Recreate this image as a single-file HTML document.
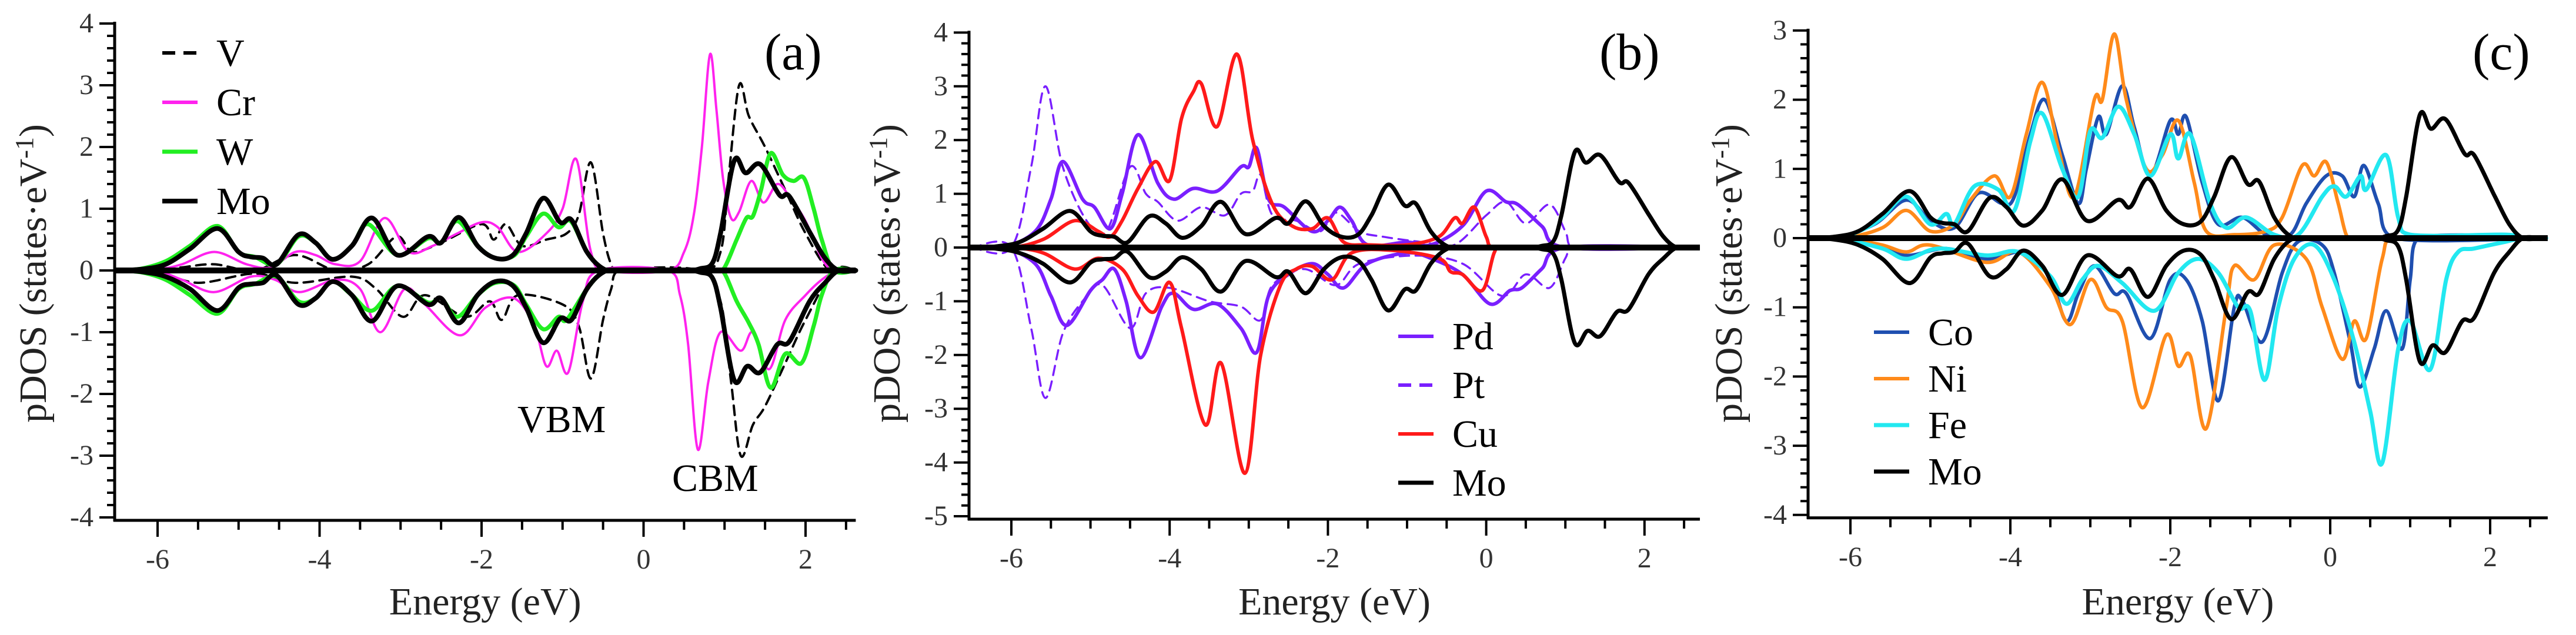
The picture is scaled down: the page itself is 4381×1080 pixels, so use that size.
<!DOCTYPE html>
<html><head><meta charset="utf-8"><style>
html,body{margin:0;padding:0;background:#fff;}
svg{display:block;}
svg text{font-family:"Liberation Serif","Times New Roman",serif;}
</style></head><body>
<svg id="fig" width="4381" height="1080" viewBox="0 0 4381 1080" xmlns="http://www.w3.org/2000/svg" font-family="Liberation Serif, serif"></svg>
<script>
// ---------- data (energy eV, pDOS) ----------
const moUp=[[-6.5,0],[-6.2,0.02],[-5.9,0.1],[-5.6,0.35],[-5.26,0.68],[-5.0,0.3],[-4.85,0.22],[-4.7,0.2],[-4.53,0.1],[-4.26,0.58],[-4.05,0.45],[-3.84,0.18],[-3.6,0.4],[-3.35,0.85],[-3.04,0.25],[-2.66,0.55],[-2.5,0.45],[-2.28,0.86],[-2.05,0.4],[-1.83,0.2],[-1.62,0.24],[-1.45,0.6],[-1.24,1.17],[-1.03,0.78],[-0.89,0.82],[-0.7,0.3],[-0.5,0.03],[-0.3,0],[0.5,0],[0.7,0.03],[0.85,0.12],[0.95,0.6],[1.12,1.78],[1.26,1.58],[1.44,1.72],[1.68,1.22],[1.8,1.2],[2.06,0.6],[2.24,0.2],[2.41,0],[2.62,0]];
const moDown=[[-6.5,0],[-6.2,-0.02],[-5.9,-0.1],[-5.6,-0.3],[-5.26,-0.65],[-5.0,-0.28],[-4.85,-0.22],[-4.7,-0.2],[-4.53,-0.08],[-4.26,-0.55],[-4.05,-0.45],[-3.84,-0.18],[-3.6,-0.4],[-3.35,-0.82],[-3.04,-0.25],[-2.66,-0.55],[-2.5,-0.45],[-2.28,-0.85],[-2.05,-0.4],[-1.83,-0.18],[-1.62,-0.24],[-1.45,-0.6],[-1.24,-1.17],[-1.03,-0.78],[-0.89,-0.8],[-0.7,-0.3],[-0.5,-0.03],[-0.3,0],[0.5,0],[0.7,-0.03],[0.85,-0.12],[0.95,-0.6],[1.12,-1.78],[1.28,-1.55],[1.44,-1.65],[1.65,-1.2],[1.8,-1.15],[2.05,-0.5],[2.24,-0.2],[2.41,0],[2.62,0]];
// panel a
const wUp=[[-6.5,0],[-6.2,0.03],[-5.9,0.15],[-5.6,0.4],[-5.26,0.72],[-5.0,0.3],[-4.8,0.22],[-4.53,0.1],[-4.26,0.55],[-4.05,0.45],[-3.84,0.18],[-3.6,0.4],[-3.4,0.75],[-3.04,0.25],[-2.66,0.52],[-2.5,0.45],[-2.3,0.8],[-2.05,0.4],[-1.83,0.2],[-1.6,0.24],[-1.45,0.55],[-1.24,0.92],[-1.05,0.7],[-0.9,0.8],[-0.7,0.3],[-0.5,0.03],[-0.3,0],[0.9,0],[1.0,0.05],[1.15,0.5],[1.27,0.85],[1.35,0.88],[1.45,1.3],[1.57,1.9],[1.72,1.55],[1.85,1.45],[1.98,1.5],[2.1,1.0],[2.2,0.5],[2.35,0],[2.62,0]];
const wDown=[[-6.5,0],[-6.2,-0.03],[-5.9,-0.15],[-5.6,-0.4],[-5.26,-0.7],[-5.0,-0.3],[-4.8,-0.22],[-4.53,-0.1],[-4.26,-0.5],[-4.05,-0.45],[-3.84,-0.18],[-3.6,-0.4],[-3.35,-0.65],[-3.04,-0.25],[-2.66,-0.52],[-2.5,-0.45],[-2.3,-0.75],[-2.05,-0.4],[-1.83,-0.2],[-1.6,-0.24],[-1.45,-0.55],[-1.24,-0.95],[-1.05,-0.75],[-0.95,-0.8],[-0.7,-0.3],[-0.5,-0.03],[-0.3,0],[0.9,0],[1.0,-0.05],[1.15,-0.5],[1.3,-0.85],[1.42,-1.2],[1.57,-1.9],[1.75,-1.35],[1.95,-1.5],[2.1,-0.9],[2.2,-0.4],[2.35,0],[2.62,0]];
const crUp=[[-6.5,0],[-6.0,0.02],[-5.7,0.1],[-5.3,0.3],[-4.9,0.1],[-4.6,0.05],[-4.3,0.3],[-4.05,0.25],[-3.8,0.1],[-3.5,0.15],[-3.2,0.85],[-2.9,0.3],[-2.6,0.4],[-2.3,0.6],[-2.0,0.78],[-1.8,0.7],[-1.55,0.3],[-1.2,0.6],[-1.0,1.0],[-0.83,1.8],[-0.65,0.3],[-0.45,0],[0.3,0],[0.5,0.3],[0.62,0.9],[0.72,2.0],[0.82,3.5],[0.9,2.6],[0.98,1.5],[1.08,0.85],[1.18,0.95],[1.33,1.45],[1.48,1.1],[1.65,1.4],[1.8,1.2],[2.0,0.8],[2.2,0.2],[2.35,0],[2.62,0]];
const crDown=[[-6.5,0],[-6.0,-0.02],[-5.7,-0.15],[-5.3,-0.35],[-4.85,-0.1],[-4.55,-0.15],[-4.25,-0.35],[-3.8,-0.15],[-3.5,-0.3],[-3.25,-1.0],[-2.95,-0.3],[-2.7,-0.55],[-2.27,-1.05],[-1.95,-0.6],[-1.6,-0.45],[-1.35,-0.9],[-1.2,-1.55],[-1.07,-1.3],[-0.93,-1.65],[-0.75,-0.5],[-0.55,0],[0.3,0],[0.45,-0.4],[0.55,-1.2],[0.67,-2.9],[0.8,-1.8],[0.95,-1.0],[1.2,-1.3],[1.35,-1.0],[1.55,-1.6],[1.75,-0.8],[2.0,-0.4],[2.2,-0.15],[2.4,0],[2.62,0]];
const vUp=[[-6.5,0],[-6.0,0.01],[-5.7,0.05],[-5.3,0.1],[-4.8,0],[-4.3,0.25],[-3.8,0],[-3.4,0.1],[-3.05,0.55],[-2.85,0.3],[-2.5,0.45],[-2.0,0.75],[-1.85,0.5],[-1.7,0.75],[-1.5,0.4],[-1.2,0.5],[-0.95,0.6],[-0.8,0.9],[-0.65,1.75],[-0.5,0.6],[-0.4,0.1],[-0.3,0],[0.7,0],[0.95,0.3],[1.05,1.5],[1.18,3.0],[1.3,2.5],[1.5,2.0],[1.75,1.3],[2.0,0.6],[2.3,0],[2.62,0]];
const vDown=[[-6.5,0],[-6.0,-0.02],[-5.5,-0.2],[-4.8,-0.05],[-4.3,-0.2],[-3.6,-0.1],[-3.3,-0.3],[-2.97,-0.75],[-2.7,-0.4],[-2.2,-0.75],[-1.9,-0.5],[-1.75,-0.8],[-1.55,-0.4],[-1.0,-0.55],[-0.8,-0.9],[-0.65,-1.75],[-0.5,-0.8],[-0.4,-0.3],[-0.3,0],[0.7,0],[0.95,-0.5],[1.08,-1.8],[1.2,-3.0],[1.35,-2.5],[1.5,-2.2],[1.75,-1.5],[2.0,-0.8],[2.35,0],[2.62,0]];
// panel b
const pdUp=[[-6.5,0],[-6.1,0],[-5.7,0.3],[-5.5,0.9],[-5.35,1.6],[-5.1,0.9],[-4.95,0.75],[-4.75,0.35],[-4.6,1.0],[-4.4,2.1],[-4.15,1.2],[-3.95,0.9],[-3.7,1.1],[-3.4,1.05],[-3.1,1.5],[-3.0,1.5],[-2.9,1.85],[-2.75,0.9],[-2.55,0.75],[-2.2,0.3],[-2.0,0.5],[-1.85,0.75],[-1.7,0.5],[-1.5,0.05],[-1.0,0.1],[-0.7,0.05],[-0.3,0.4],[0.0,1.05],[0.25,0.85],[0.4,0.8],[0.7,0.4],[1.0,0],[2.62,0]];
const pdDown=[[-6.5,0],[-6.1,0],[-5.7,-0.3],[-5.5,-0.9],[-5.3,-1.45],[-5.0,-0.8],[-4.85,-0.6],[-4.7,-0.4],[-4.55,-1.0],[-4.37,-2.05],[-4.1,-1.1],[-3.95,-0.85],[-3.7,-1.15],[-3.4,-1.05],[-3.1,-1.5],[-2.9,-1.95],[-2.75,-0.9],[-2.5,-0.5],[-2.2,-0.3],[-2.0,-0.5],[-1.8,-0.75],[-1.5,-0.3],[-1.0,-0.1],[-0.7,-0.2],[-0.3,-0.5],[0.05,-1.05],[0.3,-0.8],[0.45,-0.75],[0.7,-0.4],[1.0,0],[2.62,0]];
const ptUp=[[-6.5,0],[-6.0,0],[-5.75,1.5],[-5.57,3.0],[-5.35,1.5],[-5.05,0.5],[-4.8,0.3],[-4.5,1.5],[-4.3,1.0],[-4.15,0.85],[-3.9,0.5],[-3.6,0.75],[-3.3,0.6],[-3.1,1.0],[-2.95,1.05],[-2.85,1.35],[-2.7,0.6],[-2.4,0.5],[-2.1,0.3],[-1.9,0.65],[-1.6,0.3],[-1.3,0.2],[-0.8,0.1],[-0.4,0.05],[0.0,0.6],[0.25,0.85],[0.5,0.45],[0.8,0.8],[1.0,0.3],[1.1,0],[2.62,0]];
const ptDown=[[-6.5,0],[-6.0,0],[-5.75,-1.5],[-5.57,-2.8],[-5.35,-1.6],[-5.1,-1.0],[-4.85,-0.7],[-4.5,-1.5],[-4.3,-0.85],[-4.0,-0.75],[-3.5,-1.0],[-3.1,-1.1],[-2.85,-1.35],[-2.7,-0.7],[-2.3,-0.4],[-1.9,-0.7],[-1.6,-0.3],[-0.9,-0.15],[-0.3,-0.3],[0.2,-0.9],[0.5,-0.5],[0.8,-0.75],[1.0,-0.2],[1.1,0],[2.62,0]];
const cuUp=[[-6.5,0],[-6.0,0],[-5.6,0.15],[-5.2,0.5],[-4.9,0.3],[-4.75,0.2],[-4.6,0.5],[-4.4,1.1],[-4.18,1.6],[-4.0,1.25],[-3.85,2.4],[-3.7,2.9],[-3.6,3.05],[-3.4,2.25],[-3.15,3.6],[-2.95,2.0],[-2.7,0.8],[-2.45,0.4],[-2.2,0.35],[-2.0,0.55],[-1.8,0.1],[-1.5,0.05],[-1.0,0.05],[-0.6,0.2],[-0.4,0.55],[-0.3,0.45],[-0.15,0.75],[0.0,0.2],[0.1,0],[2.62,0]];
const cuDown=[[-6.5,0],[-6.0,0],[-5.6,-0.1],[-5.2,-0.4],[-4.9,-0.2],[-4.6,-0.4],[-4.4,-0.9],[-4.2,-1.2],[-4.0,-0.65],[-3.85,-1.5],[-3.55,-3.3],[-3.35,-2.15],[-3.05,-4.2],[-2.85,-2.0],[-2.6,-0.7],[-2.4,-0.4],[-2.2,-0.35],[-1.95,-0.6],[-1.7,-0.1],[-1.2,-0.05],[-0.6,-0.2],[-0.45,-0.45],[-0.3,-0.5],[-0.05,-0.8],[0.1,-0.1],[0.2,0],[2.62,0]];
// panel c
const coUp=[[-6.5,0],[-6.2,0],[-5.7,0.2],[-5.3,0.55],[-5.0,0.25],[-4.7,0.15],[-4.4,0.65],[-4.1,0.5],[-3.95,0.6],[-3.75,1.5],[-3.57,2.0],[-3.35,1.2],[-3.15,0.5],[-3.05,1.0],[-2.9,1.75],[-2.8,1.5],[-2.6,2.2],[-2.45,1.6],[-2.25,0.9],[-2.0,1.7],[-1.9,1.5],[-1.8,1.75],[-1.6,0.8],[-1.4,0.2],[-1.1,0.3],[-0.8,0.05],[-0.5,0.05],[-0.3,0.5],[-0.05,0.9],[0.15,0.9],[0.3,0.6],[0.42,1.05],[0.6,0.5],[0.8,0],[2.7,0]];
const coDown=[[-6.5,0],[-6.2,0],[-5.7,-0.1],[-5.3,-0.25],[-4.8,-0.15],[-4.3,-0.3],[-3.8,-0.2],[-3.5,-0.6],[-3.3,-1.2],[-3.15,-0.8],[-2.95,-0.4],[-2.7,-0.8],[-2.55,-0.8],[-2.25,-1.45],[-2.0,-0.6],[-1.8,-0.6],[-1.6,-1.2],[-1.4,-2.35],[-1.2,-1.0],[-1.1,-0.9],[-0.85,-1.5],[-0.6,-0.5],[-0.4,-0.05],[-0.1,-0.1],[0.05,-0.5],[0.25,-1.5],[0.37,-2.15],[0.55,-1.6],[0.7,-1.05],[0.9,-1.6],[1.0,-0.6],[1.1,0],[2.7,0]];
const niUp=[[-6.5,0],[-6.0,0.02],[-5.6,0.15],[-5.3,0.4],[-5.0,0.1],[-4.7,0.2],[-4.5,0.55],[-4.2,0.9],[-4.0,0.6],[-3.8,1.5],[-3.6,2.25],[-3.4,1.3],[-3.2,0.6],[-2.95,2.0],[-2.85,2.0],[-2.7,2.95],[-2.55,2.0],[-2.3,1.0],[-2.1,1.2],[-1.9,1.7],[-1.7,0.8],[-1.55,0.1],[-1.2,0.05],[-0.8,0.1],[-0.6,0.3],[-0.35,1.05],[-0.2,0.9],[-0.05,1.1],[0.1,0.5],[0.2,0.05],[0.3,0],[2.7,0]];
const niDown=[[-6.5,0],[-6.0,-0.02],[-5.6,-0.1],[-5.3,-0.2],[-5.0,-0.1],[-4.3,-0.35],[-3.9,-0.2],[-3.5,-0.7],[-3.25,-1.25],[-3.0,-0.6],[-2.8,-1.0],[-2.6,-1.2],[-2.35,-2.45],[-2.05,-1.4],[-1.9,-1.85],[-1.75,-1.7],[-1.55,-2.75],[-1.3,-1.0],[-1.2,-0.4],[-0.95,-0.6],[-0.7,-0.1],[-0.3,-0.3],[-0.1,-1.0],[0.15,-1.75],[0.3,-1.2],[0.45,-1.45],[0.65,-0.3],[0.8,0],[2.7,0]];
const feUp=[[-6.5,0],[-6.1,0.02],[-5.8,0.15],[-5.6,0.3],[-5.3,0.6],[-5.0,0.2],[-4.8,0.35],[-4.7,0.2],[-4.45,0.75],[-4.15,0.7],[-3.95,0.4],[-3.75,1.4],[-3.6,1.8],[-3.35,1.0],[-3.15,0.6],[-3.0,1.55],[-2.85,1.45],[-2.65,1.9],[-2.45,1.5],[-2.25,0.9],[-2.0,1.5],[-1.9,1.15],[-1.75,1.5],[-1.5,0.5],[-1.3,0.15],[-1.05,0.3],[-0.7,0.05],[-0.4,0.05],[-0.1,0.6],[0.05,0.75],[0.2,0.6],[0.38,0.9],[0.45,0.7],[0.7,1.2],[0.85,0.3],[1.0,0.05],[2.2,0.05],[2.4,0],[2.7,0]];
const feDown=[[-6.5,0],[-6.1,-0.02],[-5.6,-0.15],[-5.3,-0.3],[-4.9,-0.15],[-4.3,-0.25],[-3.9,-0.2],[-3.5,-0.55],[-3.3,-0.95],[-3.1,-0.6],[-2.9,-0.4],[-2.6,-0.65],[-2.2,-1.05],[-1.9,-0.5],[-1.65,-0.3],[-1.4,-0.5],[-1.15,-1.0],[-1.0,-1.05],[-0.82,-2.05],[-0.65,-1.0],[-0.45,-0.3],[-0.2,-0.1],[0.05,-0.6],[0.3,-1.5],[0.5,-2.5],[0.65,-3.25],[0.85,-1.6],[1.0,-1.2],[1.25,-1.9],[1.45,-0.6],[1.6,-0.2],[1.8,-0.15],[2.2,-0.05],[2.4,0],[2.7,0]];
const xTicks=[-6,-4,-2,0,2];
const yTicksA=[-4,-3,-2,-1,0,1,2,3,4];
const yTicksB=[-5,-4,-3,-2,-1,0,1,2,3,4];
const yTicksC=[-4,-3,-2,-1,0,1,2,3];

// ---------- rendering ----------
const NS='http://www.w3.org/2000/svg';
const FONT='Liberation Serif, Times New Roman, serif';
const svg=document.getElementById('fig');
function mk(tag,attrs,parent){const e=document.createElementNS(NS,tag);for(const k in attrs)e.setAttribute(k,attrs[k]);if(tag==='text')e.setAttribute('font-family',FONT);(parent||svg).appendChild(e);return e;}
function smooth(pts,xs,ys){
  const p=pts.map(d=>[xs(d[0]),ys(d[1])]);
  let s='M'+p[0][0].toFixed(1)+','+p[0][1].toFixed(1);
  for(let i=0;i<p.length-1;i++){
    const p0=p[Math.max(0,i-1)],p1=p[i],p2=p[i+1],p3=p[Math.min(p.length-1,i+2)];
    let c1x=p1[0]+(p2[0]-p0[0])/6,c1y=p1[1]+(p2[1]-p0[1])/6;
    let c2x=p2[0]-(p3[0]-p1[0])/6,c2y=p2[1]-(p3[1]-p1[1])/6;
    c1x=Math.min(Math.max(c1x,p1[0]),p2[0]);c2x=Math.min(Math.max(c2x,p1[0]),p2[0]);
    s+=' C'+c1x.toFixed(1)+','+c1y.toFixed(1)+' '+c2x.toFixed(1)+','+c2y.toFixed(1)+' '+p2[0].toFixed(1)+','+p2[1].toFixed(1);
  }
  return s;
}
function panel(cfg){
  const g=mk('g',{});
  
  
  const xs=e=>cfg.x0+(e-cfg.e0)*cfg.ppe;
  const ys=v=>cfg.y0-v*cfg.ppu;
  const axL=cfg.axisX, axR=xs(cfg.eMax), yTop=ys(cfg.yMax), yBot=ys(cfg.yMin)+5;
  cfg.series.forEach(s=>{
    [['up',s.up],['down',s.down]].forEach(([dir,d])=>{
      const pth=mk('path',{d:smooth(d,xs,ys),fill:'none',stroke:s.color,'stroke-width':s.w,'stroke-linejoin':'round','stroke-linecap':'round'},g);
      if(s.dash)pth.setAttribute('stroke-dasharray',s.dash);
      
      
    });
  });
  const zl=mk('line',{x1:axL,x2:axR,y1:ys(0),y2:ys(0),stroke:'#000','stroke-width':10},g);
  
  
  const ya=mk('line',{x1:axL,x2:axL,y1:yTop-3,y2:yBot+2,stroke:'#000','stroke-width':5},g);
  
  
  const xa=mk('line',{x1:axL-2,x2:axR,y1:yBot,y2:yBot,stroke:'#000','stroke-width':5},g);
  
  
  for(let v=cfg.yMin;v<=cfg.yMax+1e-6;v+=0.2){
    const major=Math.abs(v-Math.round(v))<1e-6;
    mk('line',{x1:axL-(major?26:13),x2:axL,y1:ys(v),y2:ys(v),stroke:'#000','stroke-width':4},g);
  }
  cfg.yTicks.forEach(v=>{
    const t=mk('text',{x:axL-36,y:ys(v)+15,'font-size':48,'text-anchor':'end',fill:'#333'},g);
    t.textContent=String(v);
    
    
  });
  for(let e=Math.ceil(cfg.e0*2)/2;e<=cfg.eMax+1e-6;e+=0.5){
    const major=Math.abs(e/2-Math.round(e/2))<1e-6;
    mk('line',{x1:xs(e),x2:xs(e),y1:yBot,y2:yBot+(major?28:16),stroke:'#000','stroke-width':4},g);
  }
  xTicks.forEach(e=>{
    const t=mk('text',{x:xs(e),y:yBot+82,'font-size':48,'text-anchor':'middle',fill:'#333'},g);
    t.textContent=String(e);
    
    
  });
  const xt=mk('text',{x:(axL+axR)/2,y:1045,'font-size':66,'text-anchor':'middle',fill:'#222'},g);
  xt.textContent='Energy (eV)';
  
  
  const yt=mk('text',{x:0,y:0,'font-size':66,'text-anchor':'middle',fill:'#222',transform:'translate('+(cfg.titleX)+','+cfg.titleY+') rotate(-90)'},g);
  yt.innerHTML='pDOS (states·eV<tspan font-size="44" dy="-22">-1</tspan><tspan dy="22">)</tspan>';
  
  
  const pl=mk('text',{x:cfg.labelX,y:118,'font-size':88,fill:'#000'},g);
  pl.textContent=cfg.label;
  
  
  cfg.series.forEach((s,i)=>{
    const ly=cfg.legY+i*cfg.legDy;
    const ll=mk('line',{x1:cfg.legX,x2:cfg.legX+60,y1:ly,y2:ly,stroke:s.color,'stroke-width':Math.max(s.w,6)},g);
    if(s.dash)ll.setAttribute('stroke-dasharray','22,14');
    
    
    const lt=mk('text',{x:cfg.legX+92,y:ly+22,'font-size':66,fill:'#000'},g);
    lt.textContent=s.name;
    
    
  });
  return {g,xs,ys};
}
panel({id:'a',label:'(a)',labelX:1300,x0:268,e0:-6,ppe:137.75,eMax:2.62,axisX:195,y0:460,ppu:105,yMin:-4,yMax:4,yTicks:yTicksA,titleX:78,titleY:465,legX:276,legY:90,legDy:84,
  series:[{name:'V',up:vUp,down:vDown,color:'#000',w:4,dash:'16,11'},{name:'Cr',up:crUp,down:crDown,color:'#ff22ee',w:4},{name:'W',up:wUp,down:wDown,color:'#22ee22',w:7},{name:'Mo',up:moUp,down:moDown,color:'#000',w:8}]});
const vbm=mk('text',{x:880,y:735,'font-size':66,fill:'#000'});vbm.textContent='VBM';


const cbm=mk('text',{x:1143,y:835,'font-size':66,fill:'#000'});cbm.textContent='CBM';


panel({id:'b',label:'(b)',labelX:2720,x0:1720,e0:-6,ppe:134.6,eMax:2.7,axisX:1648,y0:421,ppu:91.4,yMin:-5,yMax:4,yTicks:yTicksB,titleX:1530,titleY:465,legX:2378,legY:572,legDy:83,
  series:[{name:'Pd',up:pdUp,down:pdDown,color:'#7a1fff',w:6},{name:'Pt',up:ptUp,down:ptDown,color:'#7a1fff',w:3.5,dash:'16,11'},{name:'Cu',up:cuUp,down:cuDown,color:'#ff1a1a',w:6},{name:'Mo',up:moUp,down:moDown,color:'#000',w:7}]});
panel({id:'c',label:'(c)',labelX:4205,x0:3147,e0:-6,ppe:136,eMax:2.72,axisX:3075,y0:405,ppu:117.7,yMin:-4,yMax:3,yTicks:yTicksC,titleX:2962,titleY:465,legX:3187,legY:565,legDy:79,
  series:[{name:'Co',up:coUp,down:coDown,color:'#1f4fb0',w:6},{name:'Ni',up:niUp,down:niDown,color:'#ff8a1a',w:6},{name:'Fe',up:feUp,down:feDown,color:'#22e8f0',w:7},{name:'Mo',up:moUp,down:moDown,color:'#000',w:7}]});
</script>
</body></html>
